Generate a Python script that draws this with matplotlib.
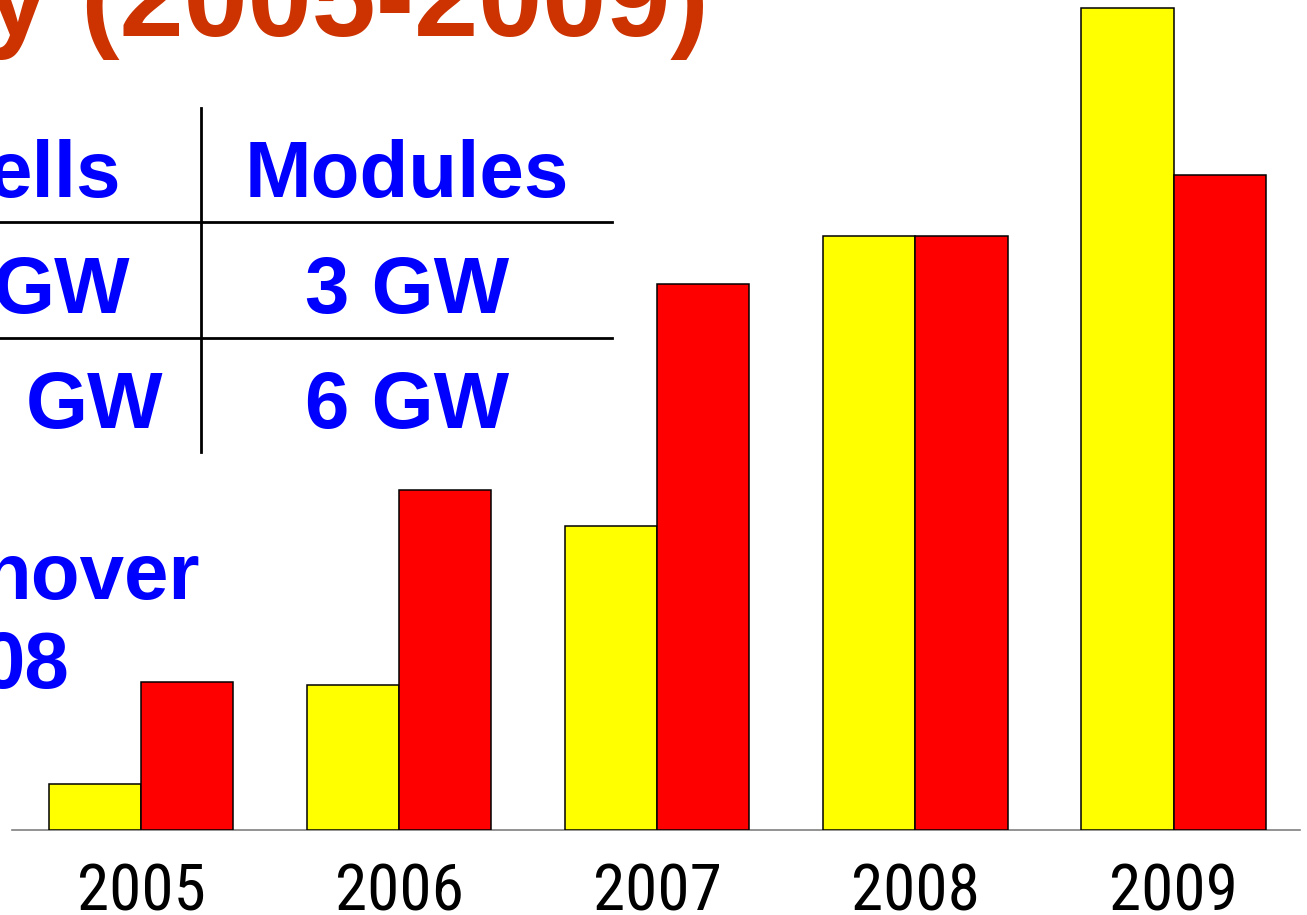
import matplotlib
matplotlib.use("Agg")
import matplotlib.pyplot as plt
from matplotlib import font_manager
import numpy as np

# ---- data (bar heights, arbitrary units) ----
years = ["2005", "2006", "2007", "2008", "2009"]
yellow_vals = [46, 145, 304, 594, 822]
red_vals = [148, 340, 546, 594, 655]

title_text = "y (2005-2009)"
col1_texts = ["ells", "GW", "GW"]
col2_texts = ["Modules", "3 GW", "6 GW"]
note_texts = ["nover", "08"]

W, H = 1307, 915
fig = plt.figure(figsize=(W / 100, H / 100), dpi=100)

installed = {f.name for f in font_manager.fontManager.ttflist}
narrow = [n for n in ["Liberation Sans Narrow", "Arial Narrow", "Roboto Condensed",
                      "Open Sans Condensed"] if n in installed]
year_family = narrow + ["Liberation Sans"]
year_size = 47 if narrow else 45

# ---- bar chart axes ----
ax = fig.add_axes([12 / W, 85 / H, 1288 / W, 830 / H])
x = np.arange(len(years))
bw = 0.357
ax.bar(x - bw / 2, yellow_vals, bw, color="#FFFF00", edgecolor="black", linewidth=1.1, zorder=3)
ax.bar(x + bw / 2, red_vals, bw, color="#FF0000", edgecolor="black", linewidth=1.1, zorder=3)
ax.set_xlim(-0.5, 4.49)
ax.set_ylim(0, 830)
for s in ["top", "right", "left"]:
    ax.spines[s].set_visible(False)
ax.spines["bottom"].set_color("#808080")
ax.spines["bottom"].set_linewidth(1.2)
ax.set_yticks([])
ax.set_xticks(x)
ax.set_xticklabels(years, fontsize=year_size, family=year_family)
ax.tick_params(axis="x", length=0, pad=22.5)
ax.patch.set_visible(False)

# ---- overlay for slide texts & table (pixel coordinates) ----
ov = fig.add_axes([0, 0, 1, 1], zorder=5)
ov.set_xlim(0, W)
ov.set_ylim(H, 0)
ov.axis("off")
ov.patch.set_visible(False)

bold = dict(family=["Liberation Sans", "DejaVu Sans"], fontweight="bold")

ov.text(709, 36, title_text, color="#CC3300", fontsize=83, ha="right", va="baseline", **bold)

# table lines
ov.plot([201, 201], [108, 452], color="black", lw=2.0)
ov.plot([0, 612], [222, 222], color="black", lw=2.0)
ov.plot([0, 612], [338, 338], color="black", lw=2.0)

rows_y = [197, 313, 428]
col1_right = [121, 130, 163]
for t, yb, xr in zip(col1_texts, rows_y, col1_right):
    ov.text(xr, yb, t, color="#0000FF", fontsize=57.5, ha="right", va="baseline", **bold)
for t, yb in zip(col2_texts, rows_y):
    ov.text(407, yb, t, color="#0000FF", fontsize=57.5, ha="center", va="baseline", **bold)

ov.text(200, 599, note_texts[0], color="#0000FF", fontsize=57.5, ha="right", va="baseline", **bold)
ov.text(70, 688, note_texts[1], color="#0000FF", fontsize=57.5, ha="right", va="baseline", **bold)

fig.savefig("out.png", dpi=100)
